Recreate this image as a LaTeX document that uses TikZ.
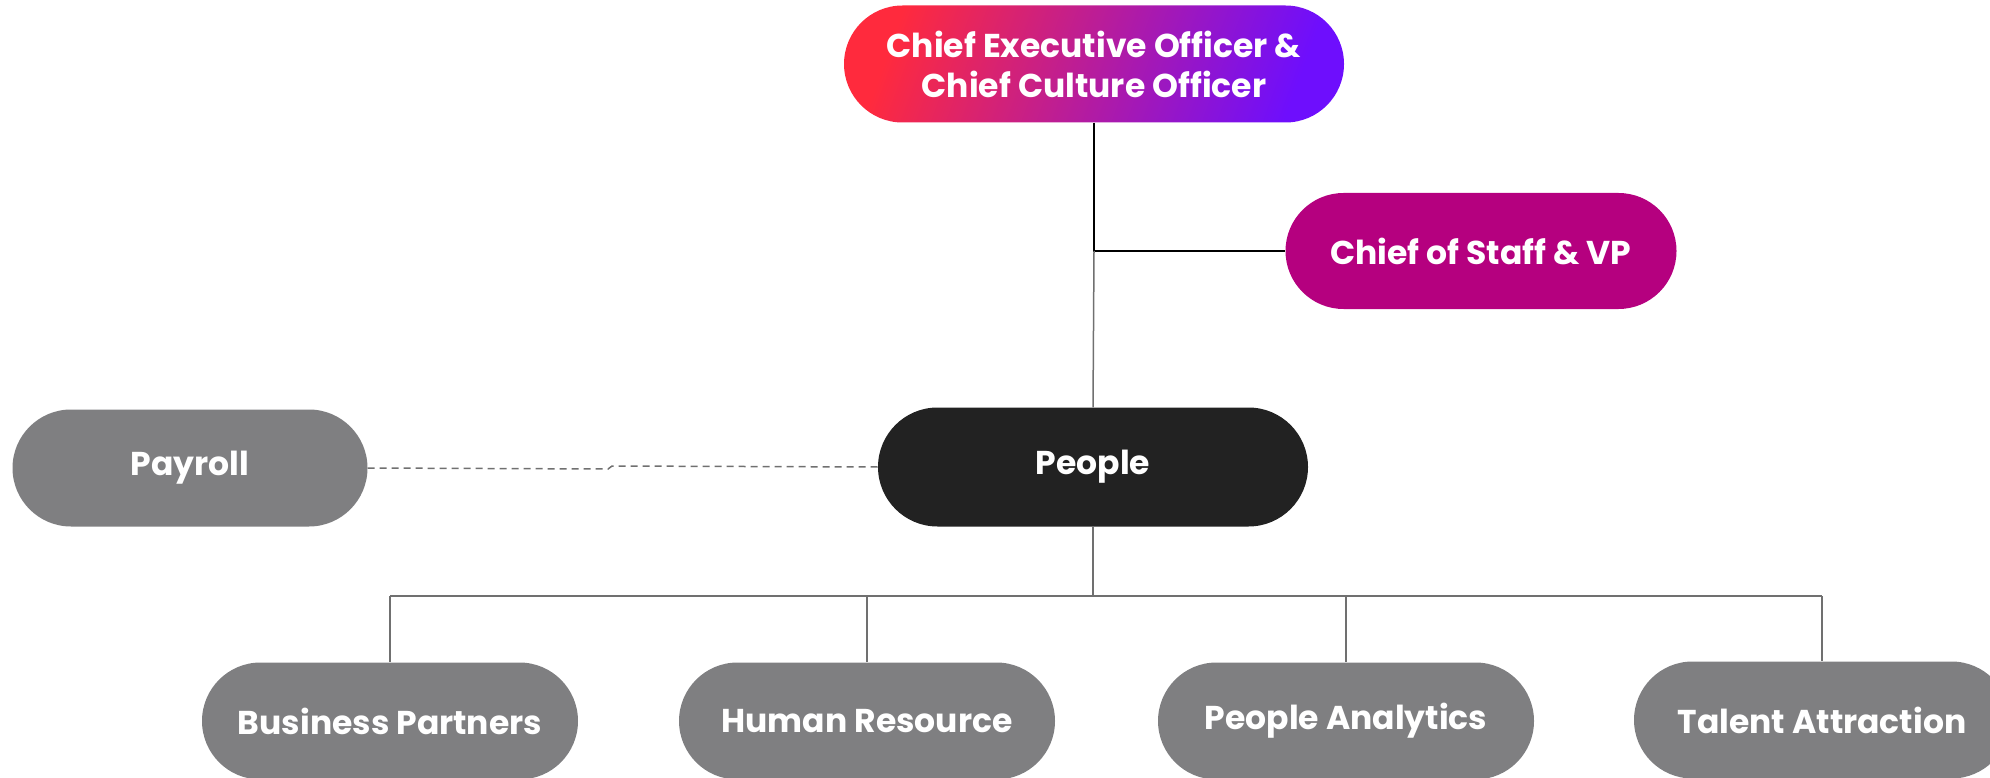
\documentclass[tikz,border=0pt]{standalone}
\usepackage{fontspec}
\setmainfont{Poppins}
\usetikzlibrary{shapes.misc}

\definecolor{ceored}{HTML}{FF2A3D}
\definecolor{ceopink}{HTML}{D21FB2}
\definecolor{ceoviolet}{HTML}{6E0EFD}
\definecolor{staffmag}{HTML}{B5007F}
\definecolor{peopleblk}{HTML}{222222}
\definecolor{unitgray}{HTML}{7F7F81}
\definecolor{linkgray}{HTML}{707070}

\tikzset{
  pill/.style={rounded rectangle, text=white, inner sep=0pt,
    font=\fontsize{33}{40}\selectfont\bfseries, align=center},
  unit/.style={pill, fill=unitgray, minimum width=376pt, minimum height=117pt},
  link/.style={draw=linkgray, line width=1.5pt},
}

\begin{document}
\begin{tikzpicture}[x=1pt,y=1pt]
  \useasboundingbox (0,0) rectangle (1990,-778);

  \node [pill, left color=ceored, middle color=ceopink, right color=ceoviolet,
    shading angle=70, minimum width=500pt, minimum height=117pt] (ceo) at (1094,-64)
    {Chief Executive Officer \&\\Chief Culture Officer};
  \node [pill, fill=staffmag, minimum width=391pt, minimum height=116pt]
    (staff) at (1481,-251) {Chief of Staff \& VP};
  \node [pill, fill=peopleblk, minimum width=430pt, minimum height=119pt]
    (people) at (1093,-467) {People};
  \node [unit, minimum width=355pt] (payroll) at (190,-468) {Payroll};

  \node [unit] (bp) at (390,-721) {Business Partners};
  \node [unit] (hr) at (867,-721) {Human Resource};
  \node [unit] (pa) at (1346,-721) {People Analytics};
  \node [unit] (ta) at (1822,-720) {Talent Attraction};

  % reporting lines
  \coordinate (split) at (ceo.south |- staff.west);
  \draw [line width=1.5pt] (ceo.south) -- (split) -- (staff.west);
  \draw [link] (split) -- (people.north);

  \coordinate (bus) at (1093,-596);
  \draw [link] (people.south) -- (bus);
  \draw [link] (bus -| bp.north) -- (bus -| ta.north);
  \foreach \u in {bp,hr,pa,ta}
    \draw [link] (bus -| \u.north) -- (\u.north);

  % dotted line to payroll
  \coordinate (jogA) at (608,-469);
  \coordinate (jogB) at (612,-466);
  \draw [link, dash pattern=on 7pt off 5pt] (payroll.east) -- (jogA) -- (jogB) -- (people.west);
\end{tikzpicture}
\end{document}
